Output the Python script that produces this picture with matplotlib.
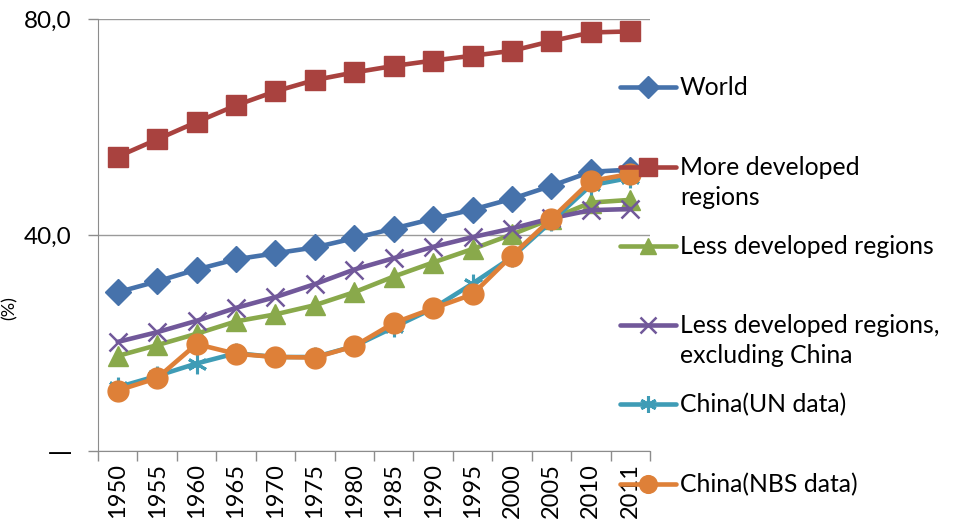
import matplotlib
matplotlib.use("Agg")
import matplotlib.pyplot as plt
from matplotlib.lines import Line2D

years = ["1950", "1955", "1960", "1965", "1970", "1975", "1980",
         "1985", "1990", "1995", "2000", "2005", "2010", "2011"]

world = [29.4, 31.4, 33.6, 35.5, 36.6, 37.7, 39.4, 41.2, 43.0, 44.7, 46.7, 49.1, 51.7, 52.1]
more_dev = [54.5, 57.7, 60.9, 64.0, 66.6, 68.7, 70.1, 71.3, 72.3, 73.2, 74.1, 75.9, 77.5, 77.7]
less_dev = [17.6, 19.6, 21.7, 24.0, 25.3, 27.0, 29.4, 32.3, 34.9, 37.4, 40.1, 43.0, 46.0, 46.5]
less_excl = [20.2, 22.0, 24.1, 26.5, 28.5, 30.9, 33.6, 35.7, 37.8, 39.6, 41.2, 43.1, 44.6, 44.8]
china_un = [11.8, 13.9, 16.2, 18.1, 17.4, 17.4, 19.4, 22.9, 26.4, 31.0, 35.9, 42.5, 49.2, 50.6]
china_nbs = [11.2, 13.5, 19.8, 18.0, 17.4, 17.3, 19.4, 23.7, 26.4, 29.0, 36.2, 43.0, 50.0, 51.3]

labels = ["World", "More developed\nregions", "Less developed regions",
          "Less developed regions,\nexcluding China", "China(UN data)", "China(NBS data)"]

plt.rcParams['font.family'] = ['Lato', 'DejaVu Sans']

fig = plt.figure(figsize=(9.54, 5.23), dpi=100)
ax = fig.add_axes([0.1027, 0.1377, 0.5786, 0.826])

x = list(range(len(years)))
styles = [
    (world, "#4672AB", dict(marker="D", markersize=13)),
    (more_dev, "#A9423F", dict(marker="s", markersize=15)),
    (less_dev, "#89A94B", dict(marker="^", markersize=14)),
    (less_excl, "#71589A", dict(marker="x", markersize=13, markeredgewidth=1.8)),
    (china_un, "#3F9CB6", dict(marker=(6, 2, 0), markersize=14, markeredgewidth=2.2)),
    (china_nbs, "#DE8038", dict(marker="o", markersize=15)),
]
for vals, col, mk in styles:
    ax.plot(x, vals, color=col, linewidth=3.3, markerfacecolor=col, markeredgecolor=col,
            solid_capstyle="round", zorder=3, clip_on=False, **mk)

ax.set_xlim(-0.5, len(years) - 0.5)
ax.set_ylim(0, 80)
ax.set_yticks([0, 40, 80])
ax.set_yticklabels(["\u2014", "40,0", "80,0"])
ax.get_yticklabels()[0].set_fontfamily("DejaVu Sans")
ax.set_xticks([i - 0.5 for i in range(len(years) + 1)])
ax.set_xticklabels([])
ax.set_xticks(x, minor=True)
ax.set_xticklabels(years, minor=True, rotation=90)
ax.tick_params(axis="x", which="major", length=7, width=1, color="#8C8C8C", direction="out")
ax.tick_params(axis="x", which="minor", length=0, pad=9, labelsize=17)
ax.tick_params(axis="y", length=7, width=1, color="#8C8C8C", pad=12, labelsize=17.5)
ax.grid(axis="y", color="#9A9A9A", linewidth=1)
ax.set_axisbelow(True)
for s in ["top", "right"]:
    ax.spines[s].set_visible(False)
for s in ["left", "bottom"]:
    ax.spines[s].set_color("#8C8C8C")

ax.set_ylabel("(%)", fontsize=13)
ax.yaxis.set_label_coords(-0.145, 0.33)

# legend drawn by hand, line aligned with the first text line
W, H = 954, 523
leg_y = [87, 167, 246, 325, 404, 484]
for (vals, col, mk), lab, yy in zip(styles, labels, leg_y):
    fy = 1 - yy / H
    fig.add_artist(Line2D([620 / W, 676 / W], [fy, fy], color=col, linewidth=3.3,
                          solid_capstyle="round"))
    mk2 = dict(mk)
    mk2["markersize"] = mk["markersize"] * 0.85
    fig.add_artist(Line2D([648 / W], [fy], color=col, markerfacecolor=col,
                          markeredgecolor=col, linestyle="none", **mk2))
    fig.text(680 / W, fy + 11 / H, lab, fontsize=17.8, va="top", ha="left",
             linespacing=1.35)

fig.savefig("out.png", dpi=100)
